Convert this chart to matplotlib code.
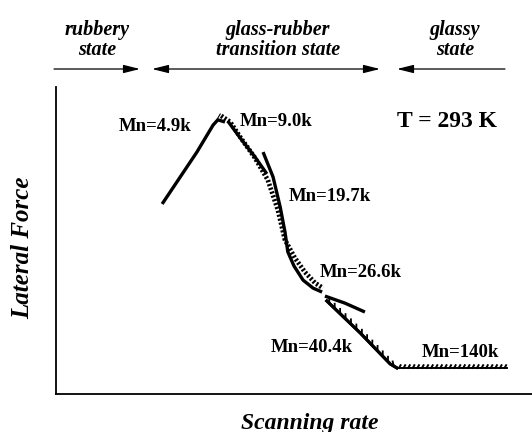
import matplotlib
matplotlib.use("Agg")
import matplotlib.pyplot as plt
import matplotlib.patheffects as pe

plt.rcParams['font.family'] = ['Liberation Serif', 'DejaVu Serif']

# ---- data (arbitrary units: scanning rate 0-100, lateral force 0-100) ----
x_49 = [22.3, 26.1, 29.6, 33.0, 34.0, 35.5]
y_49 = [61.9, 70.7, 78.8, 87.6, 89.3, 88.6]
x_49_thin = [29.8, 32.4, 34.5]
y_49_thin = [79.2, 85.7, 91.2]
x_master = [34.7, 36.6, 38.7, 41.8, 44.5, 46.6, 48.1, 50.2, 52.3, 54.4, 56.1]
y_master = [90.6, 88.6, 83.7, 76.9, 69.7, 60.0, 50.2, 44.3, 39.7, 36.2, 34.5]
x_90 = [36.1, 38.7, 41.8, 44.3]
y_90 = [88.9, 83.4, 77.2, 71.7]
x_197 = [43.5, 45.6, 47.1, 48.1, 48.7, 50.0, 51.9, 54.0, 55.9]
y_197 = [78.8, 70.7, 60.9, 52.8, 46.3, 41.7, 37.1, 34.5, 33.2]
x_266 = [56.5, 60.7, 64.9]
y_266 = [31.9, 29.6, 26.7]
x_404 = [56.9, 63.9, 70.2, 71.6]
y_404 = [30.3, 19.9, 9.8, 8.5]
x_140 = [71.6, 94.7]
y_140 = [8.5, 8.5]

labels = ["Mn=4.9k", "Mn=9.0k", "Mn=19.7k", "Mn=26.6k", "Mn=40.4k", "Mn=140k"]
label_x = [20.8, 46.2, 57.6, 64.1, 53.8, 84.9]
label_y = [87.0, 88.6, 64.2, 39.7, 15.3, 13.4]

headers = ["rubbery\nstate", "glass-rubber\ntransition state", "glassy\nstate"]

W, H = 532, 432
fig = plt.figure(figsize=(W / 100, H / 100), dpi=100)
ax = fig.add_axes([56 / W, (H - 394) / H, (W - 56) / W, (394 - 87) / H])
ax.set_xlim(0, 100)
ax.set_ylim(0, 100)
ax.set_xticks([])
ax.set_yticks([])
for s in ['top', 'right']:
    ax.spines[s].set_visible(False)
for s in ['left', 'bottom']:
    ax.spines[s].set_linewidth(1.3)

# curves
ax.plot(x_master, y_master, color='black', lw=3.4, dashes=(0.45, 0.4),
        dash_capstyle='butt', solid_capstyle='butt')
ax.plot(x_49, y_49, color='black', lw=2.4, solid_capstyle='butt')
ax.plot(x_49_thin, y_49_thin, color='black', lw=0.8)
ax.plot(x_90, y_90, color='black', lw=2.4, solid_capstyle='butt')
ax.plot(x_197, y_197, color='black', lw=2.4, solid_capstyle='butt')
ax.plot(x_266, y_266, color='black', lw=2.4, solid_capstyle='butt')
ax.plot(x_404, y_404, color='black', lw=2.2,
        path_effects=[pe.Normal(),
                      pe.withTickedStroke(angle=135, spacing=5, length=0.7, linewidth=1.3)])
ax.plot(x_140, y_140, color='black', lw=1.2,
        path_effects=[pe.Normal(),
                      pe.withTickedStroke(angle=60, spacing=3.2, length=0.7, linewidth=1.4)])

for t, lx, ly in zip(labels, label_x, label_y):
    ax.text(lx, ly, t, ha='center', va='center', fontsize=13.5, fontweight='bold')

ax.text(82.1, 88.9, "T = 293 K", ha='center', va='center', fontsize=17, fontweight='bold')

# axis labels
fig.text(23 / W, 1 - 248 / H, "Lateral Force", rotation=90, ha='center', va='center',
         fontsize=18, fontweight='bold', fontstyle='italic')
fig.text(310 / W, 1 - 423 / H, "Scanning rate", ha='center', va='center',
         fontsize=17, fontweight='bold', fontstyle='italic')

# state headers
hx = [97, 278, 455]
for t, x in zip(headers, hx):
    fig.text(x / W, 1 - 40 / H, t, ha='center', va='center', fontsize=14.5,
             fontweight='bold', fontstyle='italic', linespacing=1.0)

ay = 1 - 69 / H
astyle = dict(arrowstyle='-|>,head_length=1.0,head_width=0.25', color='black',
              lw=0.9, mutation_scale=10, shrinkA=0, shrinkB=0)
ax.annotate('', xy=(140 / W, ay), xytext=(54 / W, ay), xycoords='figure fraction',
            textcoords='figure fraction', arrowprops=astyle, annotation_clip=False)
ax.annotate('', xy=(380 / W, ay), xytext=(152 / W, ay), xycoords='figure fraction',
            textcoords='figure fraction',
            arrowprops=dict(astyle, arrowstyle='<|-|>,head_length=1.0,head_width=0.25'),
            annotation_clip=False)
ax.annotate('', xy=(397 / W, ay), xytext=(505 / W, ay), xycoords='figure fraction',
            textcoords='figure fraction', arrowprops=astyle, annotation_clip=False)

fig.savefig("out.png", dpi=100, facecolor='white')
